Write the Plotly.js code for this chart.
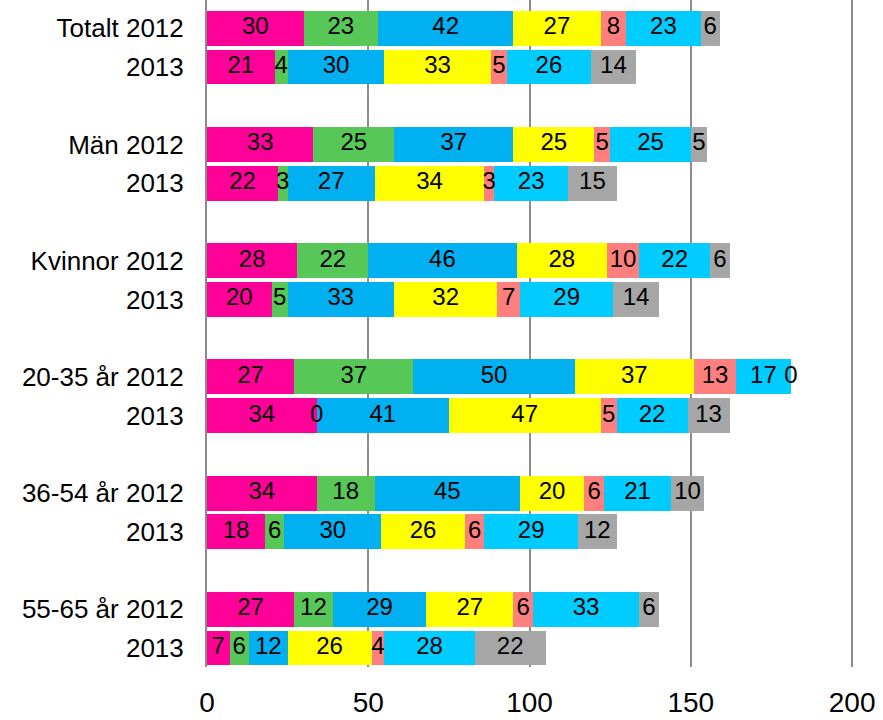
<!DOCTYPE html>
<html>
<head>
<meta charset="utf-8">
<script src="https://cdn.plot.ly/plotly-3.0.1.min.js"></script>
<style>html,body{margin:0;padding:0;background:#fff;}#chart{width:883px;height:720px;}</style>
</head>
<body>
<div id="chart"></div>
<script>
// Row labels (top to bottom) and their slot positions
var rowLabels = ["Totalt 2012","2013","Män 2012","2013","Kvinnor 2012","2013",
                 "20-35 år 2012","2013","36-54 år 2012","2013","55-65 år 2012","2013"];
var rowSlots = [0,1,3,4,6,7,9,10,12,13,15,16];

// Series values per row (same order as rowLabels)
var s1 = [30,21,33,22,28,20,27,34,34,18,27,7];
var s2 = [23,4,25,3,22,5,37,0,18,6,12,6];
var s3 = [42,30,37,27,46,33,50,41,45,30,29,12];
var s4 = [27,33,25,34,28,32,37,47,20,26,27,26];
var s5 = [8,5,5,3,10,7,13,5,6,6,6,4];
var s6 = [23,26,25,23,22,29,17,22,21,29,33,28];
var s7 = [6,14,5,15,6,14,0,13,10,12,6,22];

var series = [s1,s2,s3,s4,s5,s6,s7];
var colors = ["#FF0099","#57C757","#00B0F0","#FFFF00","#FF7F7F","#00CCFF","#A6A6A6"];

var traces = [];
var cum = rowLabels.map(function(){return 0;});
var tx = [], ty = [], tt = [];
series.forEach(function(vals, k){
  traces.push({
    type:'bar', orientation:'h', x:vals, y:rowSlots, width:0.9,
    marker:{color:colors[k], line:{width:0}}, hoverinfo:'none', textposition:'none'
  });
  vals.forEach(function(v,i){
    tx.push(cum[i] + v/2); ty.push(rowSlots[i]); tt.push(String(v));
    cum[i] += v;
  });
});
traces.push({
  type:'scatter', mode:'text', x:tx, y:ty, text:tt, textposition:'middle center',
  textfont:{family:'Liberation Sans, Arial, sans-serif', size:24, color:'#000'},
  hoverinfo:'none', cliponaxis:false
});

var layout = {
  width:883, height:720,
  margin:{l:207, r:18, t:0, b:53},
  barmode:'stack', showlegend:false,
  paper_bgcolor:'#fff', plot_bgcolor:'#fff',
  xaxis:{range:[0,204], tickvals:[0,50,100,150,200], ticktext:["0","50","100","150","200"],
         showgrid:true, gridcolor:'#8C8C8C', gridwidth:2, zeroline:false, showline:false,
         ticks:'outside', ticklen:10, tickcolor:'rgba(0,0,0,0)',
         tickfont:{family:'Liberation Sans, Arial, sans-serif', size:28, color:'#000'}, fixedrange:true},
  yaxis:{range:[16.49,-0.73], tickvals:rowSlots, ticktext:rowLabels, showgrid:false, zeroline:false,
         showline:true, linecolor:'#8C8C8C', linewidth:2,
         ticks:'outside', ticklen:16, tickcolor:'rgba(0,0,0,0)',
         tickfont:{family:'Liberation Sans, Arial, sans-serif', size:26, color:'#000'}, fixedrange:true}
};
Plotly.newPlot('chart', traces, layout, {displayModeBar:false, staticPlot:true});
</script>
</body>
</html>
